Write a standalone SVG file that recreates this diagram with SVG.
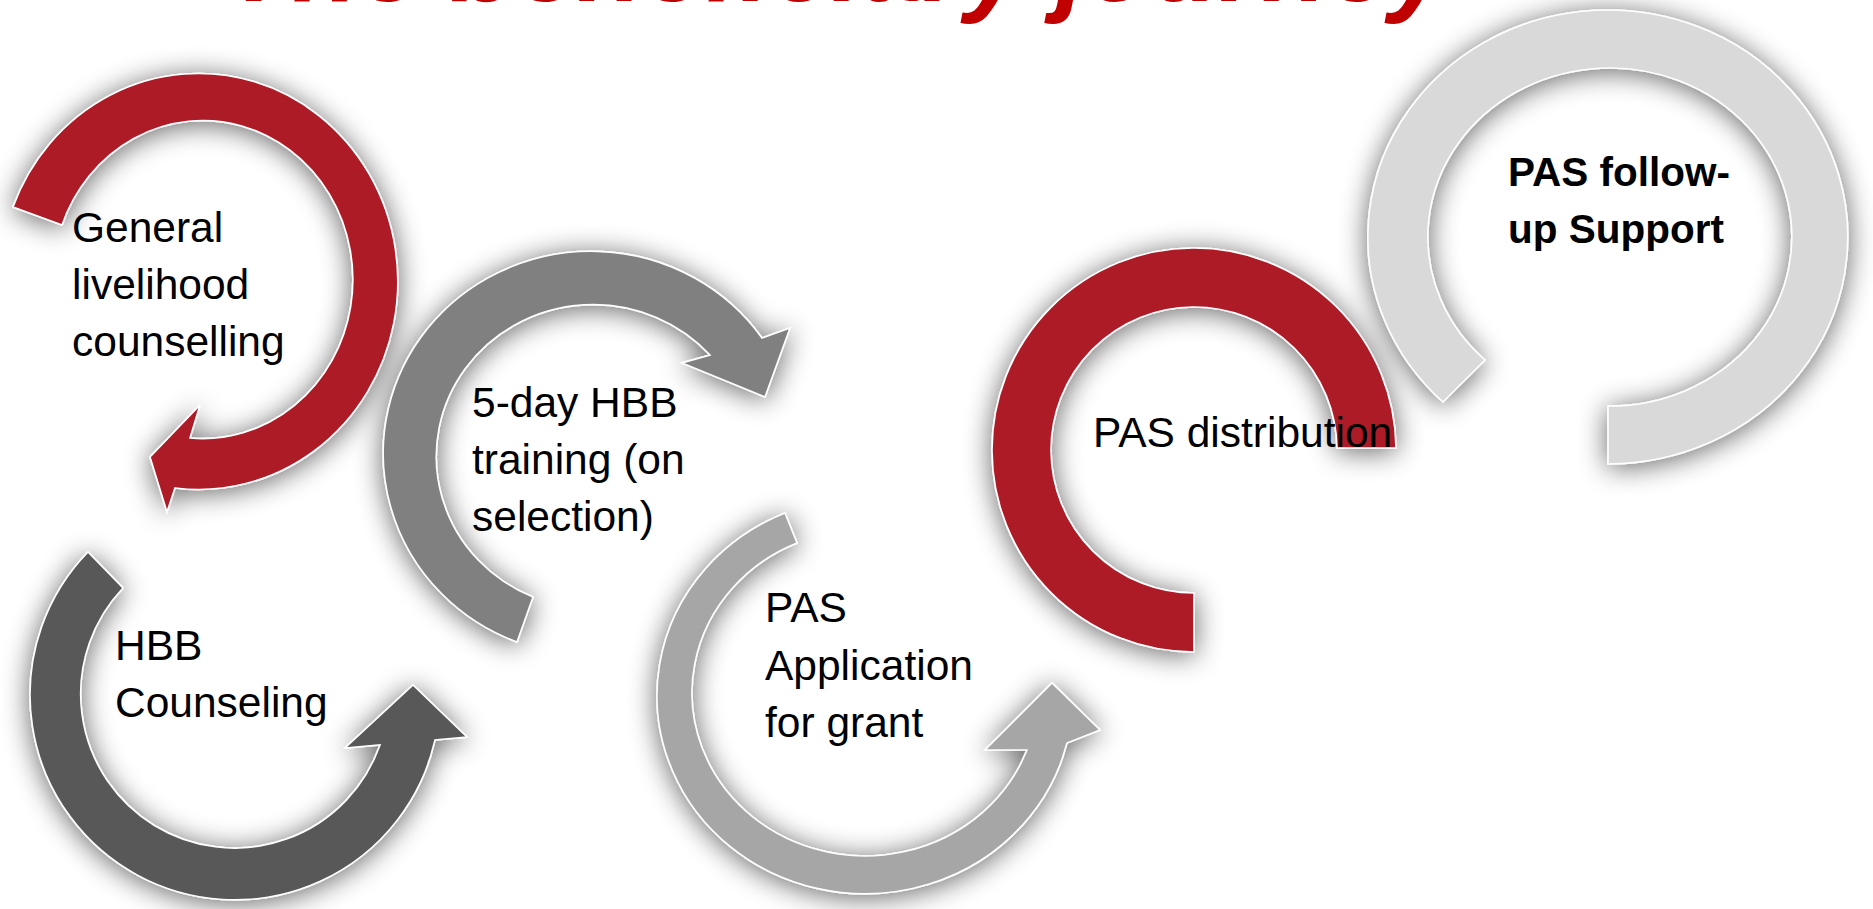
<svg xmlns="http://www.w3.org/2000/svg" width="1873" height="909" viewBox="0 0 1873 909">
<defs>
<filter id="sh" x="-30%" y="-30%" width="160%" height="160%">
<feGaussianBlur in="SourceAlpha" stdDeviation="14"/>
<feOffset dx="0" dy="3" result="b"/>
<feComponentTransfer><feFuncA type="linear" slope="0.6"/></feComponentTransfer>
<feMerge><feMergeNode/><feMergeNode in="SourceGraphic"/></feMerge>
</filter>
</defs>
<style>
.arc{stroke:#ffffff;stroke-width:1.6;stroke-linejoin:miter;filter:url(#sh)}
.red{fill:#ad1a28}
.g50{fill:#808080}
.g35{fill:#595959}
.g65{fill:#a6a6a6}
.g85{fill:#d9d9d9}
.lbl{font-family:"Liberation Sans",Arial,sans-serif;font-size:42.5px;fill:#000000}
.bold{font-weight:bold;font-size:40.5px}
.title{font-family:"Liberation Sans",Arial,sans-serif;font-size:109px;font-weight:bold;font-style:italic;fill:#c00000}
</style>
<rect x="0" y="0" width="1873" height="909" fill="#ffffff"/>
<text class="title" x="226" y="1">The beneficiary journey</text>

<g id="node-general-livelihood">
<path class="arc red" d="M 13,207 A 199,208 0 1,1 175,488 L 167,512 L 150,457 L 200,405 L 190,438 A 150,159 0 1,0 62,225 Z"/>
<text class="lbl"><tspan x="72" y="242">General</tspan><tspan x="72" y="299">livelihood</tspan><tspan x="72" y="356">counselling</tspan></text>
</g>

<g id="node-hbb-training">
<path class="arc g50" d="M 517,642 A 208,202 0 1,1 762,338 L 790,328 L 765,397 L 682,363 L 710,355 A 157,152 0 1,0 533,597 Z"/>
<text class="lbl"><tspan x="472" y="417">5-day HBB</tspan><tspan x="472" y="474">training (on</tspan><tspan x="472" y="531">selection)</tspan></text>
</g>

<g id="node-hbb-counseling">
<path class="arc g35" d="M 88,552 A 205,205 0 1,0 435,740 L 467,737 L 413,685 L 345,748 L 380,745 A 154,154 0 1,1 123,588 Z"/>
<text class="lbl"><tspan x="115" y="660">HBB</tspan><tspan x="115" y="717">Counseling</tspan></text>
</g>

<g id="node-pas-application">
<path class="arc g65" d="M 785,513 A 208,198 0 1,0 1067,743 L 1100,730 L 1052,683 L 985,750 L 1027,750 A 173,163 0 1,1 797,543 Z"/>
<text class="lbl"><tspan x="765" y="622">PAS</tspan><tspan x="765" y="680">Application</tspan><tspan x="765" y="737">for grant</tspan></text>
</g>

<g id="node-pas-distribution">
<path class="arc red" d="M 1194,652 A 202,202 0 1,1 1396,448 L 1337,448 A 143,143 0 1,0 1194,593 Z"/>
<text class="lbl" x="1093" y="447">PAS distribution</text>
</g>

<g id="node-pas-followup">
<path class="arc g85" d="M 1443,402 A 240,227 0 1,1 1608,464 L 1608,406 A 182,169 0 1,0 1485,360 Z"/>
<text class="lbl bold"><tspan x="1508" y="186">PAS follow-</tspan><tspan x="1508" y="243">up Support</tspan></text>
</g>
</svg>
